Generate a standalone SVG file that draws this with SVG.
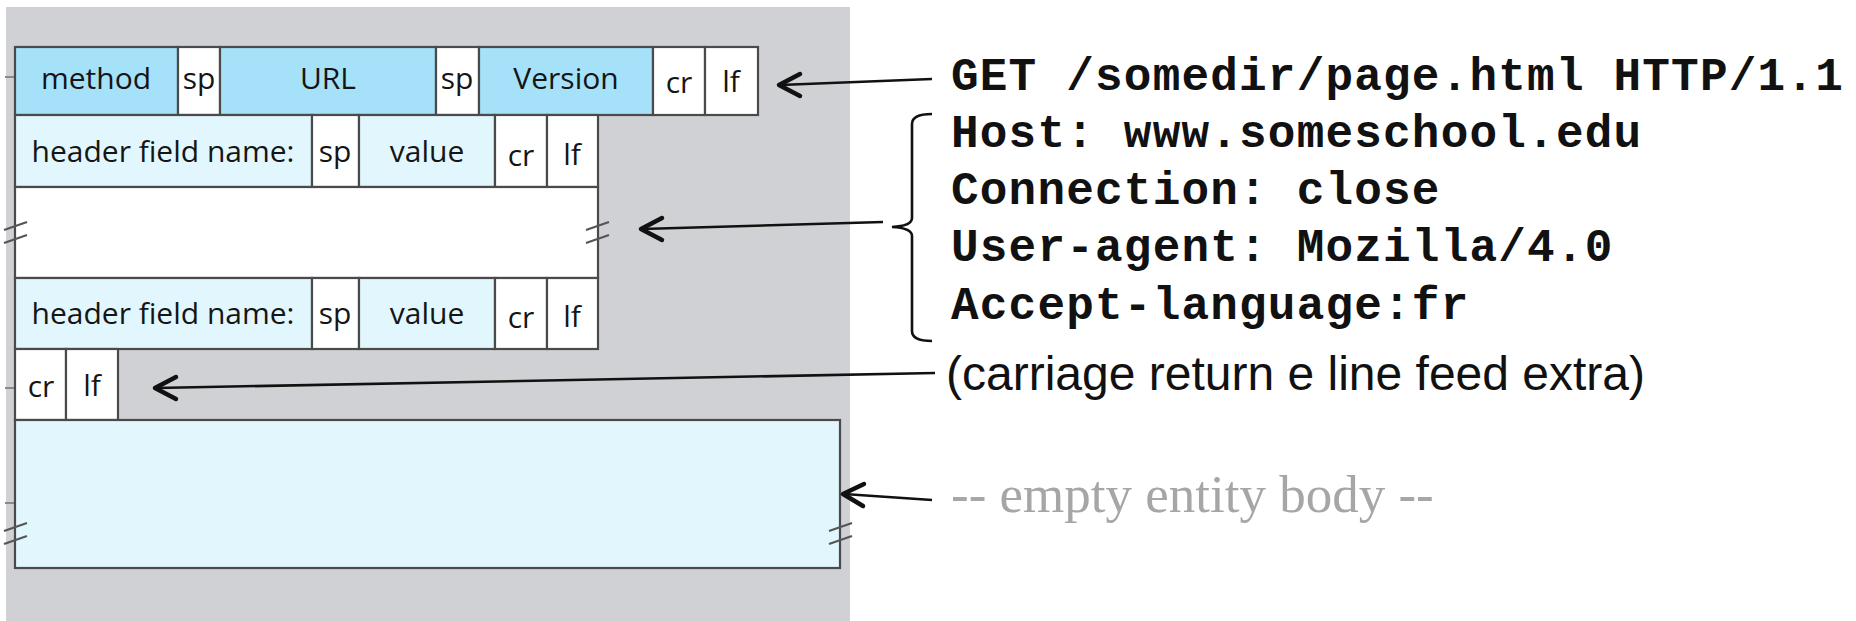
<svg xmlns="http://www.w3.org/2000/svg" width="1856" height="621" viewBox="0 0 1856 621">
<style>
.bg{fill:#d0d1d4}
.cell{stroke:#4a4a4a;stroke-width:2.2}
.blue{fill:#a5e1f9}
.lt{fill:#e2f7fd}
.wh{fill:#ffffff}
.lbl{font-family:"Open Sans","Noto Sans",sans-serif;font-size:30px;fill:#151515;text-anchor:middle}
.mono{font-family:"Liberation Mono","Courier New",monospace;font-size:46px;letter-spacing:1.2px;font-weight:bold;fill:#111}
.sans{font-family:"Liberation Sans",Arial,sans-serif;font-size:48px;fill:#111}
.serif{font-family:"Liberation Serif","Times New Roman",serif;font-size:53px;fill:#a6a6a6}
.brk{stroke:#555;stroke-width:2.2;fill:none}
.stub{stroke:#8a8a8a;stroke-width:2}
.ln{stroke:#111;stroke-width:2.6;fill:none}
.head{stroke:#111;stroke-width:4.5;fill:none;stroke-linecap:round;stroke-linejoin:round}
</style>
<rect x="0" y="0" width="1856" height="621" fill="#ffffff"/>
<rect class="bg" x="6" y="7" width="844" height="614"/>
<g id="stubs">
<line class="stub" x1="5" y1="77" x2="15" y2="77"/>
<line class="stub" x1="5" y1="388" x2="15" y2="388"/>
<line class="stub" x1="5" y1="503" x2="15" y2="503"/>
</g>
<g id="request-line">
<rect class="cell blue" x="15" y="47" width="163" height="68"/>
<rect class="cell wh" x="178" y="47" width="42" height="68"/>
<rect class="cell blue" x="220" y="47" width="216" height="68"/>
<rect class="cell wh" x="436" y="47" width="43" height="68"/>
<rect class="cell blue" x="479" y="47" width="174" height="68"/>
<rect class="cell wh" x="653" y="47" width="52" height="68"/>
<rect class="cell wh" x="705" y="47" width="53" height="68"/>
<text class="lbl" x="96" y="89">method</text>
<text class="lbl" x="199" y="89">sp</text>
<text class="lbl" x="328" y="89">URL</text>
<text class="lbl" x="457" y="89">sp</text>
<text class="lbl" x="566" y="89">Version</text>
<text class="lbl" x="679" y="93">cr</text>
<text class="lbl" x="731" y="92">lf</text>
</g>
<g id="header-line-1">
<rect class="cell lt" x="15" y="115" width="297" height="72"/>
<rect class="cell wh" x="312" y="115" width="47" height="72"/>
<rect class="cell lt" x="359" y="115" width="136" height="72"/>
<rect class="cell wh" x="495" y="115" width="52" height="72"/>
<rect class="cell wh" x="547" y="115" width="51" height="72"/>
<text class="lbl" x="163" y="162">header field name:</text>
<text class="lbl" x="335" y="162">sp</text>
<text class="lbl" x="427" y="162">value</text>
<text class="lbl" x="521" y="166">cr</text>
<text class="lbl" x="572" y="165">lf</text>
</g>
<g id="header-gap">
<rect class="cell wh" x="15" y="187" width="583" height="91"/>
<path class="brk" d="M4 230 L27 222 M4 243 L27 235"/>
<path class="brk" d="M586 230 L609 222 M586 243 L609 235"/>
</g>
<g id="header-line-n">
<rect class="cell lt" x="15" y="278" width="297" height="71"/>
<rect class="cell wh" x="312" y="278" width="47" height="71"/>
<rect class="cell lt" x="359" y="278" width="136" height="71"/>
<rect class="cell wh" x="495" y="278" width="52" height="71"/>
<rect class="cell wh" x="547" y="278" width="51" height="71"/>
<text class="lbl" x="163" y="324">header field name:</text>
<text class="lbl" x="335" y="324">sp</text>
<text class="lbl" x="427" y="324">value</text>
<text class="lbl" x="521" y="328">cr</text>
<text class="lbl" x="572" y="327">lf</text>
</g>
<g id="blank-line">
<rect class="cell wh" x="15" y="349" width="51" height="71"/>
<rect class="cell wh" x="66" y="349" width="52" height="71"/>
<text class="lbl" x="41" y="397">cr</text>
<text class="lbl" x="92" y="396">lf</text>
</g>
<g id="entity-body">
<rect class="cell lt" x="15" y="420" width="825" height="148"/>
<path class="brk" d="M4 531 L27 523 M4 544 L27 536"/>
<path class="brk" d="M829 531 L852 523 M829 544 L852 536"/>
</g>
<g id="connectors">
<line class="ln" x1="932" y1="79" x2="780" y2="85"/>
<path class="head" d="M800 74 L779 85 L800 96"/>
<line class="ln" x1="883" y1="222" x2="642" y2="229"/>
<path class="head" d="M662 218 L641 229 L662 240"/>
<line class="ln" x1="935" y1="373" x2="156" y2="388"/>
<path class="head" d="M176 377 L155 388 L176 399"/>
<line class="ln" x1="932" y1="500" x2="844" y2="494"/>
<path class="head" d="M864 484 L843 494 L863 506"/>
<path class="ln" d="M932 114 Q912 114 912 124 L912 218 Q912 226 892 227 Q912 228 912 236 L912 331 Q912 341 932 341" stroke-width="2.4"/>
</g>
<g id="texts">
<text class="mono" x="951" y="90">GET /somedir/page.html HTTP/1.1</text>
<text class="mono" x="951" y="147">Host: www.someschool.edu</text>
<text class="mono" x="951" y="204">Connection: close</text>
<text class="mono" x="951" y="261">User-agent: Mozilla/4.0</text>
<text class="mono" x="951" y="319">Accept-language:fr</text>
<text class="sans" x="946" y="390">(carriage return e line feed extra)</text>
<text class="serif" x="951" y="512">-- empty entity body --</text>
</g>
</svg>
